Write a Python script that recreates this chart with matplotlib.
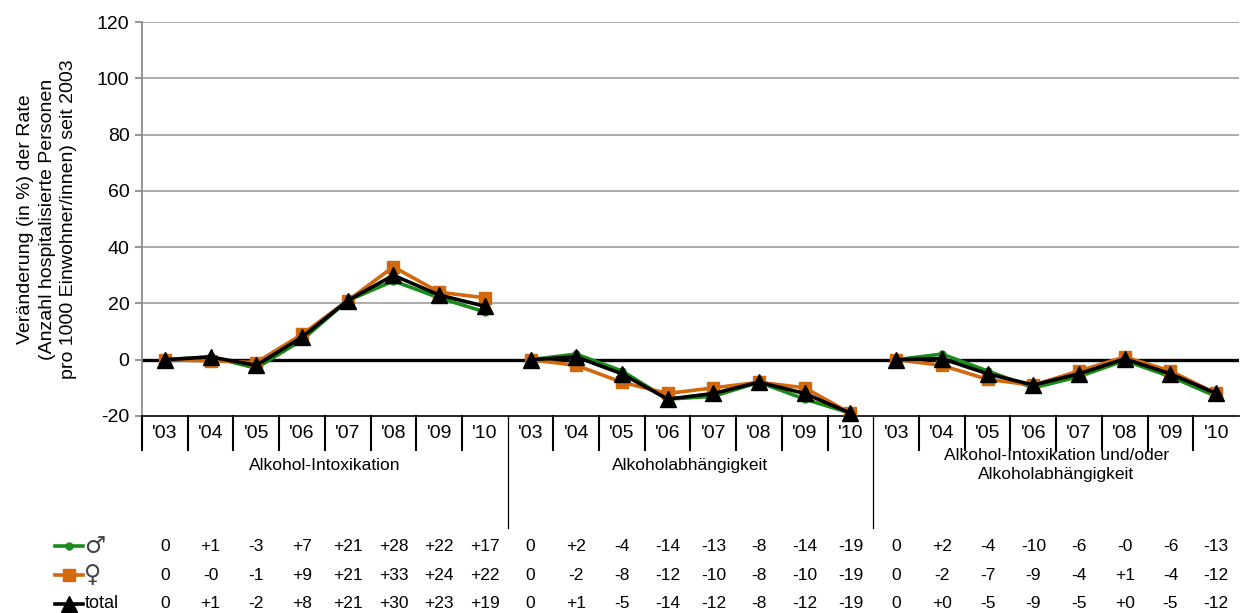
import numpy as np
import matplotlib.pyplot as plt
import matplotlib.transforms as mtransforms

plt.rcParams['font.family'] = ['Liberation Sans', 'DejaVu Sans']

years = ["'03", "'04", "'05", "'06", "'07", "'08", "'09", "'10"]
groups = ['Alkohol-Intoxikation', 'Alkoholabhängigkeit',
          'Alkohol-Intoxikation und/oder\nAlkoholabhängigkeit']

male = [0, 1, -3, 7, 21, 28, 22, 17,
        0, 2, -4, -14, -13, -8, -14, -19,
        0, 2, -4, -10, -6, -0.3, -6, -13]
female = [0, -0.4, -1, 9, 21, 33, 24, 22,
          0, -2, -8, -12, -10, -8, -10, -19,
          0, -2, -7, -9, -4, 1, -4, -12]
total = [0, 1, -2, 8, 21, 30, 23, 19,
         0, 1, -5, -14, -12, -8, -12, -19,
         0, 0.4, -5, -9, -5, 0.3, -5, -12]

series = [
    ('\u2642', male, '#1a8a1a', 'o', 5),
    ('\u2640', female, '#d2690c', 's', 8),
    ('total', total, 'black', '^', 11),
]

ngrp = len(groups)
nyr = len(years)
n = ngrp * nyr
x = np.arange(n)

fig = plt.figure(figsize=(12.4, 6.13), dpi=100)
ax = fig.add_axes([142 / 1240, 1 - 416 / 613, 1097 / 1240, 394 / 613])

ax.set_xlim(-0.5, n - 0.5)
ax.set_ylim(-20, 120)
ax.set_yticks(np.arange(-20, 121, 20))
ax.set_yticklabels([str(v) for v in range(-20, 121, 20)], fontsize=14)
for v in range(20, 121, 20):
    ax.axhline(v, color='#a6a6a6', lw=1.3, zorder=0)
ax.axhline(0, color='black', lw=2.4, zorder=1)

ax.set_xticks([])
for s in ['top', 'right']:
    ax.spines[s].set_visible(False)
ax.spines['left'].set_color('#8c8c8c')
ax.spines['left'].set_linewidth(1.3)
ax.spines['bottom'].set_color('black')
ax.spines['bottom'].set_linewidth(1.2)
ax.tick_params(axis='y', length=5, color='#8c8c8c', width=1.3, pad=4)

ax.set_ylabel('Veränderung (in %) der Rate\n(Anzahl hospitalisierte Personen\npro 1000 Einwohner/innen) seit 2003',
              fontsize=14, linespacing=1.35, labelpad=14)

# lines, one segment per group
for order, (name, vals, col, mk, ms) in enumerate(series):
    vals = np.array(vals, dtype=float)
    for g in range(ngrp):
        sl = slice(g * nyr, (g + 1) * nyr)
        ax.plot(x[sl], vals[sl], color=col, lw=2.6, marker=mk, ms=ms,
                zorder=3 + order, clip_on=False)

# category axis with boxes, group labels and data table
tr = mtransforms.blended_transform_factory(ax.transData, ax.transAxes)
for i in range(n):
    ax.text(i, -0.045, years[i % nyr], transform=tr, ha='center', va='center', fontsize=14)
for i in range(1, n):
    if i % nyr == 0:
        ax.plot([i - 0.5, i - 0.5], [0, -0.284], transform=tr, color='black', lw=0.9, clip_on=False)
    else:
        ax.plot([i - 0.5, i - 0.5], [0, -0.086], transform=tr, color='black', lw=1.5, clip_on=False)
ax.plot([-0.5, -0.5], [0, -0.086], transform=tr, color='black', lw=1.5, clip_on=False)

for g in range(ngrp):
    cx = g * nyr + (nyr - 1) / 2
    ax.text(cx, -0.125, groups[g], transform=tr, ha='center', va='center',
            fontsize=12.5, linespacing=1.3)

row_y = [-0.33, -0.404, -0.477]
for (name, vals, col, mk, ms), ry in zip(series, row_y):
    for i, v in enumerate(vals):
        lab = '0' if i % nyr == 0 else f'{v:+.0f}'
        ax.text(i, ry, lab, transform=tr, ha='center', va='center', fontsize=12.5)
    fy = 1 - (416 - ry * 394) / 613
    fig.add_artist(plt.Line2D([55 / 1240, 83 / 1240], [fy, fy], color=col, lw=2.6,
                              transform=fig.transFigure))
    fig.add_artist(plt.Line2D([69 / 1240], [fy], color=col, marker=mk, ms=ms,
                              transform=fig.transFigure))
    if name == 'total':
        fig.text(85 / 1240, fy, name, ha='left', va='center', fontsize=13)
    else:
        fig.text(84 / 1240, fy, name, ha='left', va='center', fontsize=17,
                 color='#444444', family=['DejaVu Sans', 'Liberation Sans'])

fig.savefig('out.png', dpi=100)
